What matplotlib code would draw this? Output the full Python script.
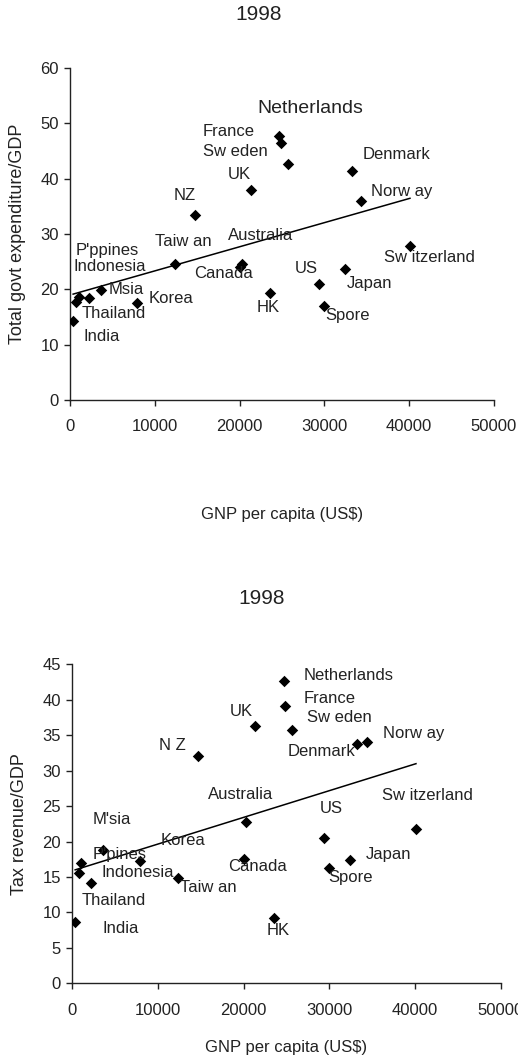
import numpy as np
import matplotlib
matplotlib.use("Agg")
import matplotlib.pyplot as plt

plt.rcParams['font.family'] = ['Liberation Sans', 'DejaVu Sans']

# ---------------- data ----------------
countries = ["India", "Indonesia", "P'ppines", "Thailand", "Msia", "Korea", "Taiwan",
             "NZ", "Canada", "Australia", "UK", "HK", "Netherlands", "France", "Sweden",
             "US", "Spore", "Japan", "Denmark", "Norway", "Switzerland"]
gnp_per_capita = [370, 760, 1080, 2230, 3600, 7940, 12370,
                  14700, 20070, 20320, 21340, 23560, 24700, 24850, 25660,
                  29350, 29970, 32380, 33240, 34370, 40090]
govt_expenditure = [14.2, 17.8, 18.7, 18.4, 19.8, 17.5, 24.5,
                    33.5, 24.1, 24.6, 37.9, 19.4, 47.8, 46.5, 42.7,
                    21.0, 17.0, 23.6, 41.3, 35.9, 27.9]
tax_revenue = [8.6, 15.5, 16.9, 14.2, 18.8, 17.2, 14.8,
               32.0, 17.6, 22.8, 36.3, 9.2, 42.7, 39.1, 35.7,
               20.5, 16.2, 17.4, 33.7, 34.1, 21.8]

title_text = "1998"
xlabel_text = "GNP per capita (US$)"
ylabel_top = "Total govt expenditure/GDP"
ylabel_bottom = "Tax revenue/GDP"
xticks = [0, 10000, 20000, 30000, 40000, 50000]
yticks_top = [0, 10, 20, 30, 40, 50, 60]
yticks_bottom = [0, 5, 10, 15, 20, 25, 30, 35, 40, 45]

# ---------------- layout (label text placement, left edge / vertical centre) ----------------
labels_top = {
    "Netherlands": ("Netherlands", 22050, 52.7, 14),
    "France": ("France", 15680, 48.5, 12),
    "Sweden": ("Sw eden", 15680, 45.0, 12),
    "Denmark": ("Denmark", 34550, 44.4, 12),
    "UK": ("UK", 18630, 40.8, 12),
    "NZ": ("NZ", 12260, 37.0, 12),
    "Norway": ("Norw ay", 35500, 37.7, 12),
    "Taiwan": ("Taiw an", 10020, 28.7, 12),
    "Australia": ("Australia", 18630, 29.8, 12),
    "P'ppines": ("P'ppines", 710, 27.0, 12),
    "Indonesia": ("Indonesia", 470, 24.2, 12),
    "Canada": ("Canada", 14620, 22.8, 12),
    "Switzerland": ("Sw itzerland", 37030, 25.8, 12),
    "US": ("US", 26530, 23.7, 12),
    "Japan": ("Japan", 32660, 21.0, 12),
    "Msia": ("Msia", 4600, 19.9, 12),
    "Korea": ("Korea", 9320, 18.4, 12),
    "HK": ("HK", 22050, 16.8, 12),
    "Thailand": ("Thailand", 1420, 15.6, 12),
    "Spore": ("Spore", 30070, 15.2, 12),
    "India": ("India", 1650, 11.5, 12),
}
labels_bottom = {
    "Netherlands": ("Netherlands", 27040, 43.4, 12),
    "France": ("France", 27040, 40.2, 12),
    "Sweden": ("Sw eden", 27390, 37.5, 12),
    "Norway": ("Norw ay", 36250, 35.3, 12),
    "UK": ("UK", 18410, 38.4, 12),
    "NZ": ("N Z", 10140, 33.5, 12),
    "Denmark": ("Denmark", 25170, 32.7, 12),
    "Australia": ("Australia", 15850, 26.7, 12),
    "Switzerland": ("Sw itzerland", 36130, 26.5, 12),
    "US": ("US", 28900, 24.7, 12),
    "Msia": ("M'sia", 2450, 23.1, 12),
    "Korea": ("Korea", 10370, 20.1, 12),
    "P'ppines": ("P'pines", 2450, 18.2, 12),
    "Japan": ("Japan", 34270, 18.2, 12),
    "Canada": ("Canada", 18180, 16.5, 12),
    "Indonesia": ("Indonesia", 3380, 15.6, 12),
    "Spore": ("Spore", 29840, 14.9, 12),
    "Taiwan": ("Taiw an", 12590, 13.5, 12),
    "Thailand": ("Thailand", 1170, 11.65, 12),
    "India": ("India", 3500, 7.75, 12),
    "HK": ("HK", 22730, 7.5, 12),
}

W, H = 518, 1058
fig = plt.figure(figsize=(W / 100, H / 100), dpi=100)

dark = "#222222"


def panel(rect, yvals, yticks, ymax, ylabel, labels, xlabelpad):
    ax = fig.add_axes(rect)
    x = np.array(gnp_per_capita, dtype=float)
    y = np.array(yvals, dtype=float)
    ax.scatter(x, y, marker='D', s=34, color='black', zorder=3, linewidths=0)
    k, b = np.polyfit(x, y, 1)
    xs = np.array([x.min(), x.max()])
    ax.plot(xs, k * xs + b, color='black', lw=1.1, zorder=2)
    ax.set_xlim(0, 50000)
    ax.set_ylim(0, ymax)
    ax.set_xticks(xticks)
    ax.set_yticks(yticks)
    ax.set_xticklabels([str(t) for t in xticks])
    ax.set_yticklabels([str(t) for t in yticks])
    for s in ['top', 'right']:
        ax.spines[s].set_visible(False)
    for s in ['left', 'bottom']:
        ax.spines[s].set_color(dark)
        ax.spines[s].set_linewidth(1.0)
    ax.tick_params(axis='both', direction='out', length=4, width=1.0, color=dark,
                   labelcolor=dark, labelsize=12)
    ax.tick_params(axis='x', pad=10)
    ax.tick_params(axis='y', pad=4)
    ax.set_xlabel(xlabel_text, fontsize=12, color=dark, labelpad=xlabelpad)
    ax.set_ylabel(ylabel, fontsize=13, color=dark, labelpad=10)
    for name in countries:
        txt, tx, ty, fs = labels[name]
        ax.text(tx, ty, txt, ha='left', va='center', fontsize=fs, color=dark, zorder=4)
    return ax


ax1 = panel([70 / W, 1 - 400 / H, 424 / W, 332 / H], govt_expenditure, yticks_top, 60,
            ylabel_top, labels_top, 52)
ax2 = panel([72 / W, 1 - 983.3 / H, 429 / W, 319 / H], tax_revenue, yticks_bottom, 45,
            ylabel_bottom, labels_bottom, 16)

fig.text(259 / W, 1 - 15 / H, title_text, ha='center', va='center', fontsize=15, color=dark)
fig.text(261.7 / W, 1 - 598.3 / H, title_text, ha='center', va='center', fontsize=15, color=dark)

fig.savefig("out.png", dpi=100)
